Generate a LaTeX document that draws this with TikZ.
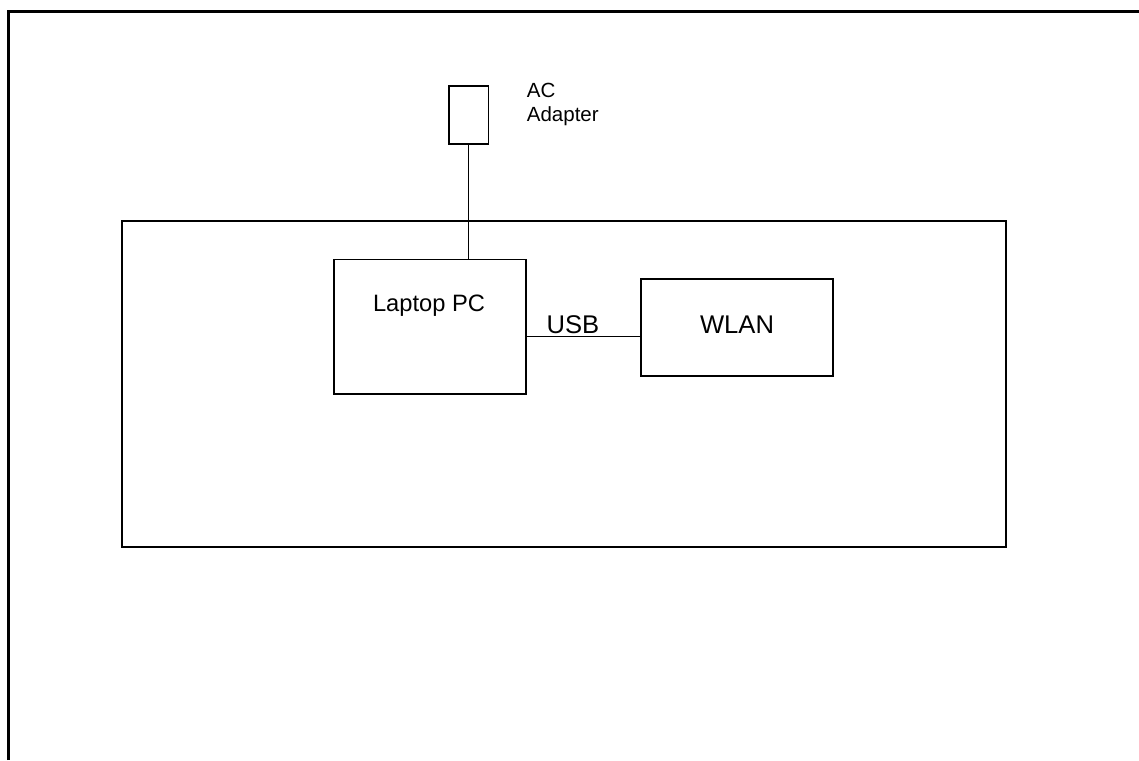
\documentclass[tikz,border=0pt]{standalone}
\usepackage{fontspec}
\setmainfont{Liberation Sans}
\begin{document}
\begin{tikzpicture}[x=0.5pt,y=-0.5pt,
  box/.style={draw=black,line width=0.75pt,rectangle,inner sep=0pt},
  wire/.style={draw=black,line width=0.75pt},
  lbl/.style={inner sep=0pt,text=black},
  bigtxt/.style={lbl,font=\fontsize{12.8pt}{15pt}\selectfont},
  midtxt/.style={lbl,font=\fontsize{11.85pt}{14pt}\selectfont},
  smalltxt/.style={lbl,font=\fontsize{10.25pt}{12.1pt}\selectfont,align=left}]
\useasboundingbox (0,0) rectangle (1139,760);
% outer frame (only top and left edges visible)
\draw[line width=1.35pt] (8.2,760) -- (8.2,11.3) -- (1139,11.3);
% boxes
\node[box,minimum width=441.85pt,minimum height=163pt] (system) at (563.9,384.2) {};
\node[box,minimum width=96pt,minimum height=67.35pt] (laptop) at (430,326.7) {};
\node[box,minimum width=96pt,minimum height=48.5pt] (wlan) at (737,327.5) {};
\node[box,minimum width=19.65pt,minimum height=29.15pt] (ac) at (468.7,114.9) {};
% labels
\node[midtxt,anchor=base] (laptoplbl) at (429,311.5) {Laptop PC};
\node[bigtxt,anchor=base] (wlanlbl) at (737,333.3) {WLAN};
\node[bigtxt,anchor=base] (usblbl) at (573,333.3) {USB};
\node[smalltxt,anchor=north west] (aclbl) at (526.5,82.5) {AC\\Adapter};
% connectors
\coordinate (usby) at (0,336.7);
\draw[wire] (ac.south) -- (ac.south |- laptop.north);
\draw[wire] (laptop.east |- usby) -- (wlan.west |- usby);
\end{tikzpicture}
\end{document}
